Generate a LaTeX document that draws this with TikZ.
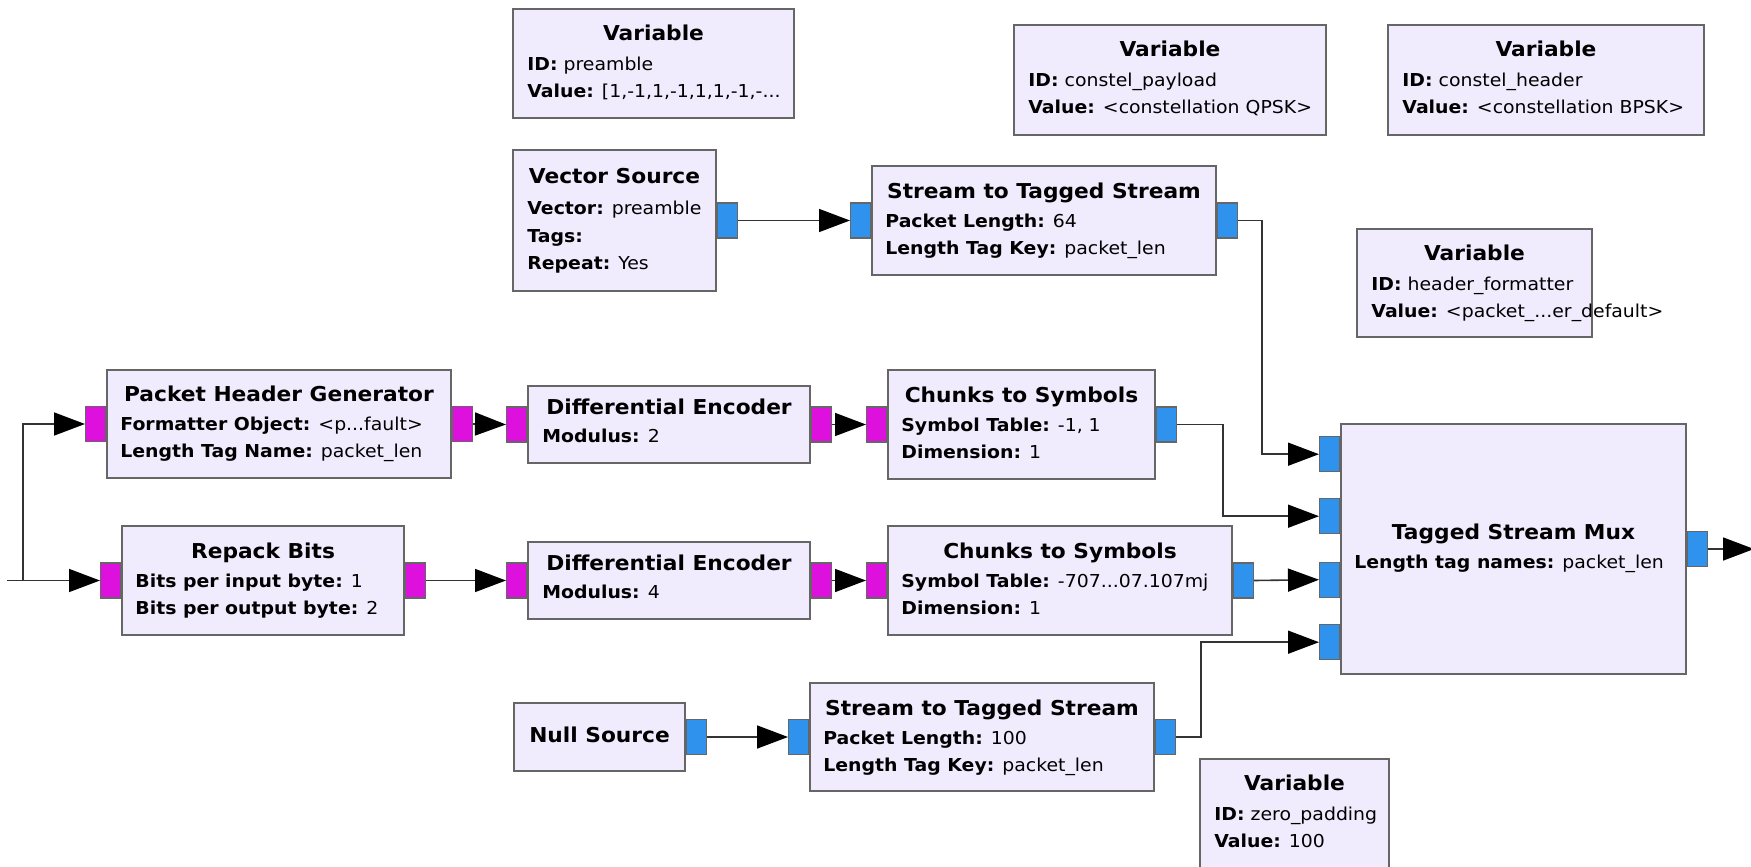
\documentclass[tikz,border=0pt]{standalone}
\usepackage{fontspec}
\setmainfont{DejaVu Sans}[FakeStretch=1.06]
\usetikzlibrary{arrows.meta,calc,fit}

\definecolor{blkfill}{HTML}{F0EBFD}
\definecolor{blkedge}{HTML}{666666}
\definecolor{cplx}{HTML}{2F93EE}
\definecolor{bytec}{HTML}{DD10DD}
\definecolor{wirec}{HTML}{333333}

\newcommand\kv[2]{\textbf{#1} #2}

\tikzset{
  blk/.style={draw=blkedge, fill=blkfill, line width=1.6pt, inner sep=0pt, rectangle},
  ttl/.style={anchor=base, inner sep=0pt, font=\fontsize{20.5}{24}\selectfont\bfseries},
  prm/.style={anchor=base west, inner sep=0pt, font=\fontsize{17.8}{21}\selectfont},
  bport/.style={draw=blkedge, fill=cplx, line width=1.2pt, minimum width=20pt,
                minimum height=35pt, inner sep=0pt, rectangle},
  mport/.style={bport, fill=bytec},
  wire/.style={draw=wirec, line width=1.6pt,
               -{Triangle[length=31pt,width=23pt,color=black]}},
}

\begin{document}
\begin{tikzpicture}[x=1pt,y=-1pt]
\fill[white] (0,0) rectangle (1751,867);
\useasboundingbox (0,0) rectangle (1751,867);

% ---------- variables ----------
\node[blk, fit={(513,9)(794,118)}] (vpre) {};
\node[ttl] (vpre-t) at ($(vpre.north)+(0,32)$) {Variable};
\node[prm] (vpre-1) at ($(vpre.north west)+(15,62)$) {\kv{ID:}{preamble}};
\node[prm] (vpre-2) at ($(vpre.north west)+(15,89)$) {\kv{Value:}{[1,-1,1,-1,1,1,-1,-...}};

\node[blk, fit={(1014,25)(1326,135)}] (vpay) {};
\node[ttl] (vpay-t) at ($(vpay.north)+(0,32)$) {Variable};
\node[prm] (vpay-1) at ($(vpay.north west)+(15,62)$) {\kv{ID:}{constel\_payload}};
\node[prm] (vpay-2) at ($(vpay.north west)+(15,89)$) {\kv{Value:}{<constellation QPSK>}};

\node[blk, fit={(1388,25)(1704,135)}] (vhdr) {};
\node[ttl] (vhdr-t) at ($(vhdr.north)+(0,32)$) {Variable};
\node[prm] (vhdr-1) at ($(vhdr.north west)+(15,62)$) {\kv{ID:}{constel\_header}};
\node[prm] (vhdr-2) at ($(vhdr.north west)+(15,89)$) {\kv{Value:}{<constellation BPSK>}};

\node[blk, fit={(1357,229)(1592,337)}] (vfmt) {};
\node[ttl] (vfmt-t) at ($(vfmt.north)+(0,32)$) {Variable};
\node[prm] (vfmt-1) at ($(vfmt.north west)+(15,62)$) {\kv{ID:}{header\_formatter}};
\node[prm] (vfmt-2) at ($(vfmt.north west)+(15,89)$) {\kv{Value:}{<packet\_...er\_default>}};

\node[blk, fit={(1200,759)(1389,880)}] (vzp) {};
\node[ttl] (vzp-t) at ($(vzp.north)+(0,32)$) {Variable};
\node[prm] (vzp-1) at ($(vzp.north west)+(15,62)$) {\kv{ID:}{zero\_padding}};
\node[prm] (vzp-2) at ($(vzp.north west)+(15,89)$) {\kv{Value:}{100}};

% ---------- preamble branch ----------
\node[blk, fit={(513,150)(716,291)}] (vsrc) {};
\node[ttl] (vsrc-t) at ($(vsrc.north)+(0,34)$) {Vector Source};
\node[prm] (vsrc-1) at ($(vsrc.north west)+(15,65)$) {\kv{Vector:}{preamble}};
\node[prm] (vsrc-2) at ($(vsrc.north west)+(15,93)$) {\kv{Tags:}{}};
\node[prm] (vsrc-3) at ($(vsrc.north west)+(15,120)$) {\kv{Repeat:}{Yes}};
\node[bport, anchor=west] (vsrc-o) at (vsrc.east) {};

\node[blk, fit={(872,166)(1216,275)}] (stsA) {};
\node[ttl] (stsA-t) at ($(stsA.north)+(0,33)$) {Stream to Tagged Stream};
\node[prm] (stsA-1) at ($(stsA.north west)+(14,62)$) {\kv{Packet Length:}{64}};
\node[prm] (stsA-2) at ($(stsA.north west)+(14,89)$) {\kv{Length Tag Key:}{packet\_len}};
\node[bport, anchor=east] (stsA-i) at (stsA.west) {};
\node[bport, anchor=west] (stsA-o) at (stsA.east) {};

% ---------- header branch ----------
\node[blk, fit={(107,370)(451,478)}] (phg) {};
\node[ttl] (phg-t) at ($(phg.north)+(0,32)$) {Packet Header Generator};
\node[prm] (phg-1) at ($(phg.north west)+(14,61)$) {\kv{Formatter Object:}{<p...fault>}};
\node[prm] (phg-2) at ($(phg.north west)+(14,88)$) {\kv{Length Tag Name:}{packet\_len}};
\node[mport, anchor=east] (phg-i) at (phg.west) {};
\node[mport, anchor=west] (phg-o) at (phg.east) {};

\node[blk, fit={(528,386)(810,463)}] (deA) {};
\node[ttl] (deA-t) at ($(deA.north)+(0,29)$) {Differential Encoder};
\node[prm] (deA-1) at ($(deA.north west)+(15,57)$) {\kv{Modulus:}{2}};
\node[mport, anchor=east] (deA-i) at (deA.west) {};
\node[mport, anchor=west] (deA-o) at (deA.east) {};

\node[blk, fit={(888,370)(1155,479)}] (chA) {};
\node[ttl] (chA-t) at ($(chA.north)+(0,33)$) {Chunks to Symbols};
\node[prm] (chA-1) at ($(chA.north west)+(14,62)$) {\kv{Symbol Table:}{-1, 1}};
\node[prm] (chA-2) at ($(chA.north west)+(14,89)$) {\kv{Dimension:}{1}};
\node[mport, anchor=east] (chA-i) at (chA.west) {};
\node[bport, anchor=west] (chA-o) at (chA.east) {};

% ---------- payload branch ----------
\node[blk, fit={(122,526)(404,635)}] (rb) {};
\node[ttl] (rb-t) at ($(rb.north)+(0,33)$) {Repack Bits};
\node[prm] (rb-1) at ($(rb.north west)+(14,62)$) {\kv{Bits per input byte:}{1}};
\node[prm] (rb-2) at ($(rb.north west)+(14,89)$) {\kv{Bits per output byte:}{2}};
\node[mport, anchor=east] (rb-i) at (rb.west) {};
\node[mport, anchor=west] (rb-o) at (rb.east) {};

\node[blk, fit={(528,542)(810,619)}] (deB) {};
\node[ttl] (deB-t) at ($(deB.north)+(0,29)$) {Differential Encoder};
\node[prm] (deB-1) at ($(deB.north west)+(15,57)$) {\kv{Modulus:}{4}};
\node[mport, anchor=east] (deB-i) at (deB.west) {};
\node[mport, anchor=west] (deB-o) at (deB.east) {};

\node[blk, fit={(888,526)(1232,635)}] (chB) {};
\node[ttl] (chB-t) at ($(chB.north)+(0,33)$) {Chunks to Symbols};
\node[prm] (chB-1) at ($(chB.north west)+(14,62)$) {\kv{Symbol Table:}{-707...07.107mj}};
\node[prm] (chB-2) at ($(chB.north west)+(14,89)$) {\kv{Dimension:}{1}};
\node[mport, anchor=east] (chB-i) at (chB.west) {};
\node[bport, anchor=west] (chB-o) at (chB.east) {};

% ---------- padding branch ----------
\node[blk, fit={(514,703)(685,771)}] (nul) {};
\node[ttl] (nul-t) at ($(nul.north)+(0,40)$) {Null Source};
\node[bport, anchor=west] (nul-o) at (nul.east) {};

\node[blk, fit={(810,683)(1154,791)}] (stsB) {};
\node[ttl] (stsB-t) at ($(stsB.north)+(0,33)$) {Stream to Tagged Stream};
\node[prm] (stsB-1) at ($(stsB.north west)+(14,62)$) {\kv{Packet Length:}{100}};
\node[prm] (stsB-2) at ($(stsB.north west)+(14,89)$) {\kv{Length Tag Key:}{packet\_len}};
\node[bport, anchor=east] (stsB-i) at (stsB.west) {};
\node[bport, anchor=west] (stsB-o) at (stsB.east) {};

% ---------- multiplexer ----------
\node[blk, fit={(1341,424)(1686,674)}] (mux) {};
\node[ttl] (mux-t) at ($(mux.north)+(0,116)$) {Tagged Stream Mux};
\node[prm] (mux-1) at ($(mux.north west)+(14,145)$) {\kv{Length tag names:}{packet\_len}};
\node[bport, anchor=east] (mux-i1) at ($(mux.north west)+(0,31)$) {};
\node[bport, anchor=east] (mux-i2) at ($(mux.north west)+(0,93)$) {};
\node[bport, anchor=east] (mux-i3) at ($(mux.north west)+(0,156.5)$) {};
\node[bport, anchor=east] (mux-i4) at ($(mux.north west)+(0,219)$) {};
\node[bport, anchor=west] (mux-o) at (mux.east) {};

% ---------- connections ----------
\coordinate (feed) at ($(rb-i.west)+(-93,0)$);
\coordinate (split) at ($(rb-i.west)+(-77,0)$);
\coordinate (muxend) at ($(mux-o.east)+(46,0)$);

\draw[wire] (feed) -- (rb-i.west);
\draw[wire] (split) |- (phg-i.west);
\draw[wire] (vsrc-o.east) -- (stsA-i.west);
\draw[wire] (phg-o.east) -- (deA-i.west);
\draw[wire] (deA-o.east) -- (chA-i.west);
\draw[wire] (rb-o.east) -- (deB-i.west);
\draw[wire] (deB-o.east) -- (chB-i.west);
\draw[wire] (nul-o.east) -- (stsB-i.west);
\draw[wire] (stsA-o.east) -- ++(24,0) |- (mux-i1.west);
\draw[wire] (chA-o.east) -- ++(46,0) |- (mux-i2.west);
\draw[wire] (chB-o.east) -- (mux-i3.west);
\draw[wire] (stsB-o.east) -- ++(25,0) |- (mux-i4.west);
\draw[wire] (mux-o.east) -- (muxend);
\end{tikzpicture}
\end{document}
